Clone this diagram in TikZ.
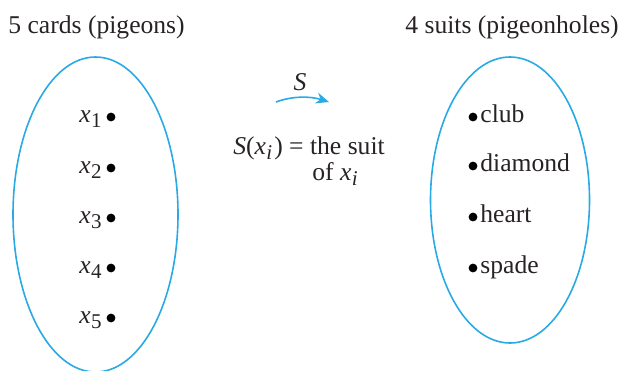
\documentclass[tikz,border=0pt]{standalone}
\usepackage{fontspec}
\setmainfont{Liberation Serif}
\usetikzlibrary{shapes.geometric,arrows.meta}
\definecolor{setblue}{RGB}{40,170,228}
\definecolor{ink}{RGB}{40,35,35}
\newcommand{\sbs}[1]{\raisebox{-0.22em}{\fontsize{10.5}{10.5}\selectfont #1}}
\newcommand{\xv}[1]{\textit{x}\kern0.2pt\sbs{#1}}
\begin{document}
\begin{tikzpicture}[x=0.5pt,y=-0.5pt,
  lbl/.style={font=\fontsize{12.8}{15}\selectfont, inner sep=0pt, text=ink},
  setshape/.style={ellipse, draw=setblue, line width=0.8pt, inner sep=0pt},
  pt/.style={circle, fill=black, inner sep=0pt, minimum size=4.4pt}]
\useasboundingbox (0,0) rectangle (619,370);
% titles
\node[lbl, anchor=base west] (t1) at (8,33) {5 cards (pigeons)};
\node[lbl, anchor=base west] (t2) at (405,33) {4 suits (pigeonholes)};
% sets
\node[setshape, minimum width=82.5pt, minimum height=157.5pt] (L) at (95.5,214.5) {};
\node[setshape, minimum width=79.5pt, minimum height=143pt] (R) at (510,200) {};
% domain points
\foreach \i/\y in {1/117,2/168,3/218,4/268,5/318}{
  \node[pt] (p\i) at (111,\y) {};
  \node[lbl, anchor=base east] (lx\i) at (102,\y+5) {\xv{\i}};
}
% codomain points
\foreach \n/\t/\y in {c/club/117,d/diamond/166,h/heart/217,s/spade/268}{
  \node[pt] (q\n) at (473,\y) {};
  \node[lbl, anchor=base west] (l\n) at (480,\y+5) {\t};
}
% function arrow
\coordinate (a0) at (276,102);
\coordinate (a1) at (329,102);
\draw[setblue, line width=0.8pt, -{Stealth[length=6.5pt,width=5.5pt]}] (a0) .. controls (292,96) and (310,96) .. (a1);
\node[lbl, anchor=base] (S) at (300,90) {\textit{S}};
\node[lbl, anchor=base west] (def1) at (233,154) {\textit{S}(\xv{\textit{i}}\kern1pt) = the suit};
\node[lbl, anchor=base west] (def2) at (312,180) {of \xv{\textit{i}}};
\end{tikzpicture}
\end{document}
